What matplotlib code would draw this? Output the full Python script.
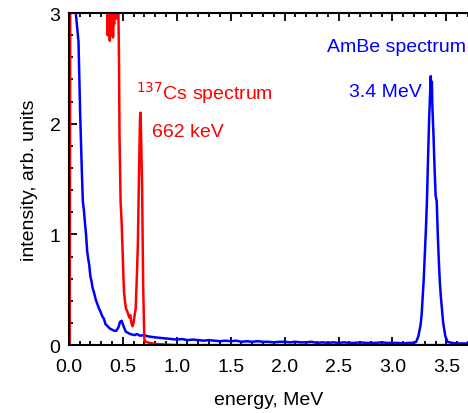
import matplotlib
matplotlib.use('Agg')
import matplotlib.pyplot as plt
from matplotlib.ticker import MultipleLocator, FormatStrFormatter

plt.rcParams['font.family'] = ['Liberation Sans', 'DejaVu Sans']

# 137Cs spectrum
cs_energy = [0.0, 0.008, 0.015, 0.02, 0.10, 0.20, 0.30, 0.34, 0.355, 0.36, 0.365, 0.37,
             0.375, 0.38, 0.385, 0.39, 0.395, 0.40, 0.405, 0.41, 0.415, 0.42, 0.43,
             0.44, 0.45, 0.46, 0.465, 0.47, 0.48, 0.49, 0.497, 0.505, 0.512, 0.52,
             0.53, 0.54, 0.55, 0.56, 0.57, 0.58, 0.59, 0.60, 0.61, 0.62, 0.63, 0.64,
             0.65, 0.66, 0.665, 0.67, 0.68, 0.685, 0.69, 0.70, 0.71, 0.75, 0.80,
             0.90, 1.00, 3.70]
cs_counts = [0.0, 0.0, 4.0, 4.0, 4.0, 4.0, 4.0, 4.0, 3.05, 2.8, 3.1, 2.85,
             3.2, 2.75, 3.0, 2.9, 3.3, 2.8, 3.1, 2.78, 3.0, 2.9, 3.2,
             2.95, 3.1, 3.0, 2.6, 1.9, 1.3, 1.1, 0.9, 0.65, 0.48, 0.4,
             0.33, 0.31, 0.28, 0.25, 0.27, 0.2, 0.17, 0.2, 0.27, 0.33, 0.6, 0.9,
             1.5, 2.05, 2.1, 1.9, 1.4, 0.9, 0.5, 0.05, 0.03, 0.02, 0.01,
             0.005, 0.0, 0.0]

# AmBe spectrum
ambe_energy = [0.0, 0.005, 0.05, 0.065, 0.09, 0.105, 0.12, 0.13, 0.14, 0.15, 0.16,
               0.17, 0.18, 0.19, 0.20, 0.21, 0.22, 0.235, 0.25, 0.265, 0.28, 0.295,
               0.31, 0.325, 0.34, 0.36, 0.38, 0.40, 0.42, 0.44, 0.46, 0.475, 0.49,
               0.50, 0.52, 0.53, 0.55, 0.57, 0.59, 0.61, 0.63, 0.66, 0.70, 0.73,
               0.76, 0.80, 0.85, 0.90, 0.95, 1.00, 1.05, 1.10, 1.15, 1.20, 1.25,
               1.30, 1.35, 1.40, 1.45, 1.50, 1.55, 1.60, 1.65, 1.70, 1.75, 1.80,
               1.85, 1.90, 1.95, 2.00, 2.05, 2.10, 2.15, 2.20, 2.25, 2.30, 2.35,
               2.40, 2.45, 2.50, 2.55, 2.60, 2.65, 2.70, 2.75, 2.80, 2.85, 2.90,
               2.95, 3.00, 3.05, 3.10, 3.15, 3.20, 3.22, 3.24, 3.26, 3.27, 3.29,
               3.31, 3.32, 3.33, 3.34, 3.35, 3.355, 3.36, 3.365, 3.37, 3.38, 3.39,
               3.40, 3.41, 3.42, 3.43, 3.44, 3.45, 3.47, 3.49, 3.51, 3.55, 3.60,
               3.65, 3.70]
ambe_counts = [0.0, 4.0, 4.0, 3.0, 2.74, 2.1, 1.6, 1.3, 1.22, 1.1, 1.0,
               0.85, 0.78, 0.72, 0.62, 0.58, 0.52, 0.47, 0.41, 0.37, 0.33, 0.30,
               0.26, 0.24, 0.19, 0.17, 0.15, 0.14, 0.13, 0.13, 0.16, 0.21, 0.22,
               0.19, 0.14, 0.12, 0.11, 0.1, 0.095, 0.09, 0.1, 0.085, 0.09, 0.08,
               0.075, 0.07, 0.065, 0.06, 0.055, 0.05, 0.055, 0.045, 0.05, 0.045, 0.04,
               0.045, 0.04, 0.035, 0.04, 0.035, 0.04, 0.03, 0.035, 0.03, 0.035, 0.03,
               0.03, 0.025, 0.03, 0.03, 0.025, 0.03, 0.025, 0.025, 0.03, 0.02, 0.025,
               0.02, 0.025, 0.02, 0.025, 0.02, 0.02, 0.025, 0.02, 0.02, 0.02, 0.025,
               0.02, 0.02, 0.02, 0.015, 0.02, 0.02, 0.03, 0.08, 0.18, 0.27, 0.6,
               1.05, 1.32, 1.7, 2.05, 2.3, 2.43, 2.25, 2.38, 2.15, 1.9, 1.6,
               1.35, 1.3, 1.0, 0.75, 0.55, 0.42, 0.2, 0.08, 0.03, 0.02, 0.015,
               0.015, 0.015]

fig = plt.figure(figsize=(4.68, 4.14), dpi=100)
ax = fig.add_axes([0.147, 0.164, 0.853, 0.802])

ax.plot(ambe_energy, ambe_counts, color='#0000ff', lw=1.8)
ax.plot(cs_energy, cs_counts, color='#ff0000', lw=1.8)

ax.set_xlim(0, 3.7)
ax.set_ylim(0, 3)
ax.xaxis.set_major_locator(MultipleLocator(0.5))
ax.xaxis.set_minor_locator(MultipleLocator(0.1))
ax.xaxis.set_major_formatter(FormatStrFormatter('%.1f'))
ax.yaxis.set_major_locator(MultipleLocator(1))
ax.yaxis.set_minor_locator(MultipleLocator(0.2))
ax.tick_params(which='both', direction='in', top=True, right=False,
               labelsize=14, width=1.3)
ax.tick_params(axis='x', pad=9)
ax.tick_params(axis='y', pad=6)
ax.tick_params(which='major', length=6)
ax.tick_params(which='minor', length=3)
for s in ['left', 'bottom', 'top']:
    ax.spines[s].set_linewidth(1.5)
ax.spines['right'].set_visible(False)

ax.set_xlabel('energy, MeV', fontsize=14, labelpad=12)
ax.set_ylabel('intensity, arb. units', fontsize=14, labelpad=8)

ax.text(3.685, 2.70, 'AmBe spectrum', color='#0000ff', fontsize=14,
        ha='right', va='center')
ax.text(2.60, 2.29, '3.4 MeV', color='#0000ff', fontsize=14, va='center')
ax.text(0.62, 2.29, r'$^{137}$Cs spectrum', color='#ff0000', fontsize=14,
        va='center')
ax.text(0.77, 1.93, '662 keV', color='#ff0000', fontsize=14, va='center')

fig.savefig('out.png', dpi=100)
